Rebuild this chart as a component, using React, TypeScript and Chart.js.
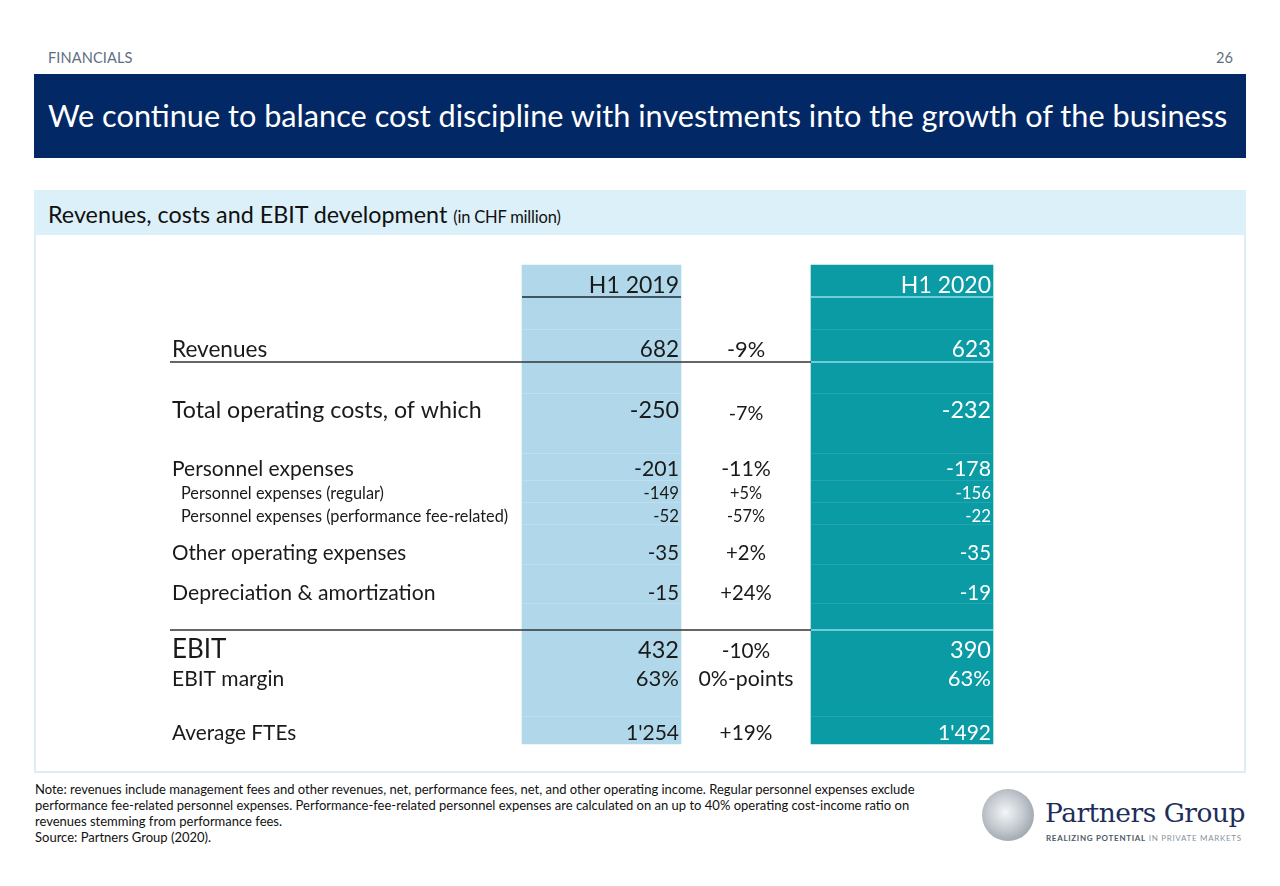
import React, { useEffect, useRef } from "react";
import { Chart, registerables } from "chart.js";

Chart.register(...registerables);

// ---------- DATA ----------
const periods = ["H1 2019", "H1 2020"];
const rowLabels = [
  "Revenues",
  "Total operating costs, of which",
  "Personnel expenses",
  "Personnel expenses (regular)",
  "Personnel expenses (performance fee-related)",
  "Other operating expenses",
  "Depreciation & amortization",
  "EBIT",
  "EBIT margin",
  "Average FTEs",
];
const valuesH1_2019 = [682, -250, -201, -149, -52, -35, -15, 432, 63, 1254];
const changePct = [-9, -7, -11, 5, -57, 2, 24, -10, 0, 19];
const valuesH1_2020 = [623, -232, -178, -156, -22, -35, -19, 390, 63, 1492];
const percentRows = [8]; // EBIT margin row is a percentage (change in %-points)

// ---------- LAYOUT / STYLE (not data) ----------
const ROW_BASELINE = [357, 418, 476, 499, 521.5, 560, 599.5, 658, 686, 740];
const CHANGE_BASELINE = [357, 419.5, 476, 499, 521.5, 560, 599.5, 657.5, 686, 740];
const LABEL_X = [172, 172, 172, 181, 181, 172, 172, 172, 172, 172];
const LABEL_SIZE = [22.6, 23.2, 21, 16.3, 16.3, 20.6, 21.2, 26, 21, 20.8];
const VALUE_SIZE = [22.5, 23.3, 21.3, 16.8, 16.8, 20.4, 20.4, 23.5, 22, 21];
const CHANGE_SIZE = [21.8, 19.8, 21.3, 16.3, 16.3, 20.3, 20.3, 20.8, 21.3, 20.8];
const COL = {
  c1Left: 522,
  c1Right: 681,
  chgCenter: 746,
  c2Left: 811,
  c2Right: 993,
  top: 265,
  bottom: 744,
  headBase: 292.5,
  headLine: 297,
  revLine: 362,
  ebitLine: 630,
  lineStart: 170,
};
const FAINT_LINES = [329, 393, 453, 480, 502, 524, 564, 603, 716];
const C1_COLOR = "#b0d8ea";
const C2_COLOR = "#0b9ba4";
const FONT = "Lato, 'Noto Sans', sans-serif";

function fmtValue(v: number, i: number): string {
  if (percentRows.includes(i)) return `${v}%`;
  const s = String(Math.abs(v)).replace(/\B(?=(\d{3})+(?!\d))/g, "'");
  return v < 0 ? `-${s}` : s;
}
function fmtChange(v: number, i: number): string {
  if (percentRows.includes(i)) return `${v}%-points`;
  return `${v > 0 ? "+" : ""}${v}%`;
}

const tablePlugin = {
  id: "tableText",
  afterDatasetsDraw(chart: any) {
    const ctx = chart.ctx as CanvasRenderingContext2D;
    const xs = chart.scales.x;
    const ys = chart.scales.y;
    const X = (v: number) => xs.getPixelForValue(v);
    const Y = (v: number) => ys.getPixelForValue(v);
    ctx.save();

    // faint row separators inside the shaded columns
    ctx.lineWidth = 1;
    FAINT_LINES.forEach((ly) => {
      ctx.strokeStyle = "rgba(255,255,255,0.10)";
      ctx.beginPath();
      ctx.moveTo(X(COL.c2Left), Math.round(Y(ly)) + 0.5);
      ctx.lineTo(X(COL.c2Right), Math.round(Y(ly)) + 0.5);
      ctx.stroke();
      ctx.strokeStyle = "rgba(255,255,255,0.18)";
      ctx.beginPath();
      ctx.moveTo(X(COL.c1Left), Math.round(Y(ly)) + 0.5);
      ctx.lineTo(X(COL.c1Right), Math.round(Y(ly)) + 0.5);
      ctx.stroke();
    });

    // header underline
    ctx.lineWidth = 1.5;
    ctx.strokeStyle = "#1e2a36";
    ctx.beginPath();
    ctx.moveTo(X(COL.c1Left), Y(COL.headLine));
    ctx.lineTo(X(COL.c1Right), Y(COL.headLine));
    ctx.stroke();
    // dark rules
    [COL.revLine, COL.ebitLine].forEach((ly) => {
      ctx.strokeStyle = "#333";
      ctx.beginPath();
      ctx.moveTo(X(COL.lineStart), Y(ly));
      ctx.lineTo(X(COL.c2Left), Y(ly));
      ctx.stroke();
    });
    // light rules in teal column
    ctx.strokeStyle = "#8fdfeb";
    [COL.headLine, COL.revLine, COL.ebitLine].forEach((ly) => {
      ctx.beginPath();
      ctx.moveTo(X(COL.c2Left), Y(ly));
      ctx.lineTo(X(COL.c2Right), Y(ly));
      ctx.stroke();
    });

    ctx.textBaseline = "alphabetic";
    // headers
    ctx.font = `23px ${FONT}`;
    ctx.textAlign = "right";
    ctx.fillStyle = "#1a1a1a";
    ctx.fillText(periods[0], X(COL.c1Right - 2), Y(COL.headBase));
    ctx.fillStyle = "#ffffff";
    ctx.fillText(periods[1], X(COL.c2Right - 2), Y(COL.headBase));

    rowLabels.forEach((label, i) => {
      const by = Y(ROW_BASELINE[i]);
      ctx.textAlign = "left";
      ctx.fillStyle = "#1a1a1a";
      ctx.font = `${LABEL_SIZE[i]}px ${FONT}`;
      ctx.fillText(label, X(LABEL_X[i]), by);

      ctx.textAlign = "right";
      ctx.font = `${VALUE_SIZE[i]}px ${FONT}`;
      ctx.fillText(fmtValue(valuesH1_2019[i], i), X(COL.c1Right - 2), by);
      ctx.fillStyle = "#ffffff";
      ctx.fillText(fmtValue(valuesH1_2020[i], i), X(COL.c2Right - 2), by);

      ctx.textAlign = "center";
      ctx.fillStyle = "#1a1a1a";
      ctx.font = `${CHANGE_SIZE[i]}px ${FONT}`;
      ctx.fillText(fmtChange(changePct[i], i), X(COL.chgCenter), Y(CHANGE_BASELINE[i]));
    });
    ctx.restore();
  },
};

function TableChart() {
  const ref = useRef<HTMLCanvasElement | null>(null);
  useEffect(() => {
    if (!ref.current) return;
    const chart = new Chart(ref.current, {
      type: "bar",
      data: {
        datasets: [
          {
            label: periods[0],
            data: [{ x: (COL.c1Left + COL.c1Right) / 2, y: [COL.top, COL.bottom] }] as any,
            backgroundColor: C1_COLOR,
            barThickness: COL.c1Right - COL.c1Left,
            grouped: false,
            borderWidth: 0,
          },
          {
            label: periods[1],
            data: [{ x: (COL.c2Left + COL.c2Right) / 2, y: [COL.top, COL.bottom] }] as any,
            backgroundColor: C2_COLOR,
            barThickness: COL.c2Right - COL.c2Left,
            grouped: false,
            borderWidth: 0,
          },
        ],
      },
      options: {
        responsive: false,
        animation: false,
        events: [],
        layout: { padding: 0 },
        plugins: { legend: { display: false }, tooltip: { enabled: false }, title: { display: false } },
        scales: {
          x: { type: "linear", min: 150, max: 1010, display: false, offset: false, bounds: "data" },
          y: { type: "linear", min: 250, max: 760, reverse: true, display: false, bounds: "data" },
        },
      } as any,
      plugins: [tablePlugin],
    });
    return () => chart.destroy();
  }, []);
  return (
    <canvas
      ref={ref}
      width={860}
      height={510}
      style={{ position: "absolute", left: 150, top: 250, width: 860, height: 510 }}
    />
  );
}

export default function App() {
  return (
    <div
      style={{
        position: "absolute",
        left: 0,
        top: 0,
        width: 1280,
        height: 886,
        background: "#fff",
        fontFamily: FONT,
        overflow: "hidden",
      }}
    >
      <div style={{ position: "absolute", left: 48, top: 49, fontSize: 14.6, color: "#5f6f82", letterSpacing: 0.1 }}>
        FINANCIALS
      </div>
      <div style={{ position: "absolute", right: 47, top: 49, fontSize: 14.6, color: "#5f6f82" }}>26</div>
      <div
        style={{
          position: "absolute",
          left: 34,
          top: 74,
          width: 1212,
          height: 84,
          background: "#022865",
        }}
      >
        <div
          style={{
            position: "absolute",
            left: 14,
            top: 24,
            fontSize: 30.7,
            color: "#fff",
            whiteSpace: "nowrap",
            lineHeight: "36px",
          }}
        >
          We continue to balance cost discipline with investments into the growth of the business
        </div>
      </div>

      <div
        style={{
          position: "absolute",
          left: 34,
          top: 190,
          width: 1208,
          height: 579,
          border: "2px solid #dbeef7",
          background: "#fff",
        }}
      />
      <div
        style={{
          position: "absolute",
          left: 34,
          top: 190,
          width: 1212,
          height: 45,
          background: "#dcf0f9",
        }}
      >
        <div style={{ position: "absolute", left: 14, top: 10, fontSize: 23.3, color: "#111", whiteSpace: "nowrap" }}>
          Revenues, costs and EBIT development <span style={{ fontSize: 16.5, letterSpacing: -0.2 }}>(in CHF million)</span>
        </div>
      </div>

      <TableChart />

      <div
        style={{
          position: "absolute",
          left: 35,
          top: 781,
          fontSize: 13,
          lineHeight: "16px",
          color: "#111",
          whiteSpace: "nowrap",
          letterSpacing: 0,
        }}
      >
        <div>
          Note: revenues include management fees and other revenues, net, performance fees, net, and other operating
          income. Regular personnel expenses exclude
        </div>
        <div>
          performance fee-related personnel expenses. Performance-fee-related personnel expenses are calculated on an up
          to 40% operating cost-income ratio on
        </div>
        <div>revenues stemming from performance fees.</div>
        <div>Source: Partners Group (2020).</div>
      </div>

      <div
        style={{
          position: "absolute",
          left: 982,
          top: 789,
          width: 52,
          height: 52,
          borderRadius: "50%",
          background: "radial-gradient(circle at 45% 45%, #f4f6f8 0%, #c3c9cf 45%, #7f8994 100%)",
        }}
      />
      <div
        style={{
          position: "absolute",
          left: 1045,
          top: 796,
          fontFamily: "'DejaVu Serif', 'Liberation Serif', serif",
          fontSize: 26.5,
          color: "#1d2e5c",
          whiteSpace: "nowrap",
          lineHeight: "34px",
          letterSpacing: -0.5,
        }}
      >
        Partners Group
      </div>
      <div
        style={{
          position: "absolute",
          left: 1046,
          top: 833,
          fontSize: 8,
          color: "#8a949e",
          whiteSpace: "nowrap",
          letterSpacing: 0.7,
        }}
      >
        <b style={{ color: "#4e5b68" }}>REALIZING POTENTIAL</b> IN PRIVATE MARKETS
      </div>
    </div>
  );
}
